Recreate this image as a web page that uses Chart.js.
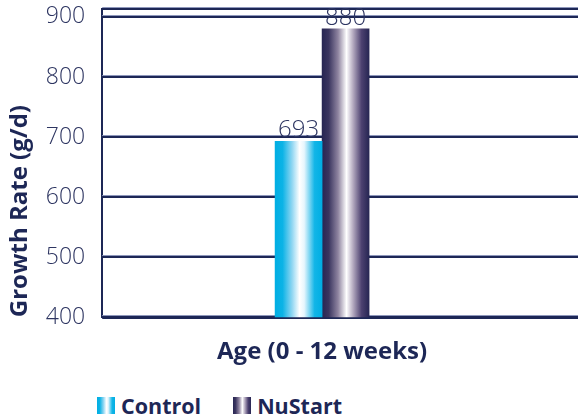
<!DOCTYPE html>
<html>
<head>
<meta charset="utf-8">
<script src="https://cdn.jsdelivr.net/npm/chart.js@4.4.1/dist/chart.umd.min.js"></script>
<style>
  body { margin: 0; background: #fff; }
  #wrap { position: relative; width: 578px; height: 417px; font-family: "Open Sans", sans-serif; }
  #box { position: absolute; left: 0; top: 0; width: 578px; height: 380px; }
  #legend { position: absolute; left: 97px; top: 391px; display: flex; font-weight: bold; font-size: 21.5px; color: #1d2756; }
  #legend span.item { display: flex; align-items: center; margin-right: 32px; }
  #legend i { display: inline-block; width: 18px; height: 17px; margin-right: 6px; }
</style>
</head>
<body>
<div id="wrap">
  <div id="box"><canvas id="chart"></canvas></div>
  <div id="legend"></div>
</div>
<script>
const categories = ['Age (0 - 12 weeks)'];
const seriesNames = ['Control', 'NuStart'];
const controlValues = [693];
const nuStartValues = [880];
const yTicks = [400, 500, 600, 700, 800, 900];
const yTop = 913;

const NAVY = '#1d2756';
const BAR_W = 47;

const controlStops = [[0, '#00aee3'], [0.16, '#0cb3e6'], [0.36, '#8fd6f2'], [0.52, '#ffffff'], [0.62, '#e6f6fd'], [0.84, '#12b5e7'], [1, '#00aee3']];
const nuStartStops = [[0, '#272653'], [0.14, '#3a355f'], [0.34, '#8f84a0'], [0.52, '#ffffff'], [0.66, '#b3a9bf'], [0.84, '#4c4170'], [1, '#272653']];

// horizontal gradient spanning one bar
function barFill(ctx, stops) {
  const chart = ctx.chart;
  const xs = chart.scales.x;
  if (!chart.chartArea || !xs || ctx.dataIndex === undefined) return stops[0][1];
  const c = xs.getPixelForValue(ctx.dataIndex);
  const left = c - BAR_W + ctx.datasetIndex * BAR_W;
  const g = chart.ctx.createLinearGradient(left, 0, left + BAR_W, 0);
  stops.forEach(s => g.addColorStop(s[0], s[1]));
  return g;
}

// legend boxes with the same gradients
const legend = document.getElementById('legend');
[controlStops, nuStartStops].forEach((stops, i) => {
  const item = document.createElement('span');
  item.className = 'item';
  const sw = document.createElement('i');
  sw.style.background = 'linear-gradient(to right,' + stops.map(s => s[1] + ' ' + (s[0] * 100) + '%').join(',') + ')';
  item.appendChild(sw);
  item.appendChild(document.createTextNode(seriesNames[i]));
  legend.appendChild(item);
});

// grid lines run from the axis to the right edge of the page, values above the bars
const extras = {
  id: 'extras',
  beforeDatasetsDraw(chart) {
    const { ctx, chartArea, scales } = chart;
    ctx.save();
    scales.y.ticks.forEach(t => {
      const y = Math.round(scales.y.getPixelForValue(t.value));
      ctx.fillStyle = '#8e97bb';
      ctx.fillRect(chartArea.left, y - 2, chart.width - chartArea.left, 1);
      ctx.fillStyle = NAVY;
      ctx.fillRect(chartArea.left, y - 1, chart.width - chartArea.left, t.value === yTicks[0] ? 3 : 2);
    });
    ctx.restore();
  },
  afterDatasetsDraw(chart) {
    const { ctx } = chart;
    ctx.save();
    ctx.font = '300 24px "Open Sans"';
    ctx.fillStyle = '#2d3561';
    ctx.textAlign = 'center';
    ctx.textBaseline = 'bottom';
    chart.data.datasets.forEach((ds, d) => {
      chart.getDatasetMeta(d).data.forEach((bar, i) => {
        ctx.fillText(ds.data[i], bar.x, bar.y + 1);
      });
    });
    ctx.restore();
  }
};

new Chart(document.getElementById('chart'), {
  type: 'bar',
  plugins: [extras],
  data: {
    labels: categories,
    datasets: [
      { label: seriesNames[0], data: controlValues, backgroundColor: c => barFill(c, controlStops), barThickness: BAR_W },
      { label: seriesNames[1], data: nuStartValues, backgroundColor: c => barFill(c, nuStartStops), barThickness: BAR_W }
    ]
  },
  options: {
    responsive: true,
    maintainAspectRatio: false,
    animation: false,
    layout: { padding: { top: 0, right: 36, left: 3, bottom: 0 } },
    plugins: { legend: { display: false }, tooltip: { enabled: false } },
    scales: {
      x: {
        grid: { display: false },
        border: { display: false },
        ticks: { color: NAVY, font: { family: 'Open Sans', size: 24, weight: 'bold' }, padding: 13 }
      },
      y: {
        min: 400,
        max: yTop,
        afterBuildTicks: s => { s.ticks = yTicks.map(v => ({ value: v })).concat([{ value: yTop }]); },
        grid: { display: false },
        border: { color: NAVY, width: 2 },
        ticks: {
          color: '#2d3561',
          padding: 9,
          font: { family: 'Open Sans', size: 23, weight: '300', lineHeight: 0.01 },
          callback: v => (yTicks.includes(v) ? v : '')
        },
        title: {
          display: true,
          text: 'Growth Rate (g/d)',
          align: 'start',
          color: NAVY,
          font: { family: 'Open Sans', size: 24, weight: 'bold', lineHeight: 1.2 },
          padding: { top: 3, bottom: 2 }
        }
      }
    }
  }
});
</script>
</body>
</html>
